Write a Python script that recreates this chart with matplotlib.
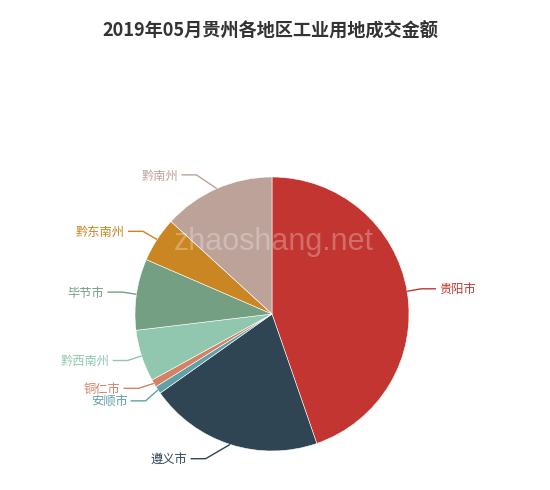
import numpy as np
import matplotlib
matplotlib.use("Agg")
import matplotlib.pyplot as plt

plt.rcParams['font.family'] = ['Noto Sans CJK SC', 'DejaVu Sans']

title = "2019年05月贵州各地区工业用地成交金额"
categories = ["贵阳市", "遵义市", "安顺市", "铜仁市", "黔西南州", "毕节市", "黔东南州", "黔南州"]
values = [44.7, 20.5, 0.9, 0.9, 6.1, 8.4, 5.3, 13.2]
colors = ["#c23531", "#2f4554", "#61a0a8", "#d48265", "#91c7ae", "#749f83", "#ca8622", "#bda29a"]

W, H = 550, 490
fig = plt.figure(figsize=(W / 100, H / 100), dpi=100)
ax = fig.add_axes([0, 0, 1, 1])

cx, cy_px, r = 272, 314, 137
cy = H - cy_px
wedges, _ = ax.pie(values, colors=colors, startangle=90, counterclock=False,
                   radius=r, center=(cx, cy), frame=True,
                   wedgeprops=dict(linewidth=0.4, edgecolor='white'))
ax.set_xlim(0, W)
ax.set_ylim(0, H)
ax.set_aspect('equal')
ax.axis('off')

# label layout (ECharts-like)
len1, len2, R = 15, 15, 166
labels = []
for w, name, col in zip(wedges, categories, colors):
    mid = np.deg2rad((w.theta1 + w.theta2) / 2)
    dx, dy = np.cos(mid), np.sin(mid)
    labels.append(dict(name=name, col=col, side=1 if dx >= 0 else -1,
                       p0=(cx + r * dx, cy + r * dy),
                       y=cy + (r + len1) * dy))

gap = 12.5
for side in (1, -1):
    grp = sorted([l for l in labels if l['side'] == side], key=lambda l: -l['y'])
    for _ in range(50):
        moved = False
        for a, b in zip(grp[:-1], grp[1:]):
            d = a['y'] - b['y']
            if d < gap:
                s = (gap - d) / 2
                a['y'] += s
                b['y'] -= s
                moved = True
        if not moved:
            break

for l in labels:
    ddy = l['y'] - cy
    ddx = np.sqrt(max(R * R - ddy * ddy, 0))
    x3 = cx + l['side'] * ddx
    x2 = x3 - l['side'] * len2
    ax.plot([l['p0'][0], x2, x3], [l['p0'][1], l['y'], l['y']], color=l['col'], lw=1,
            solid_capstyle='butt')
    ax.text(x3 + l['side'] * 3, l['y'] - 1, l['name'], color=l['col'], fontsize=8.8,
            ha='left' if l['side'] > 0 else 'right', va='center')

ax.text(W / 2 - 5, H - 31, title, ha='center', va='center', fontsize=13.1,
        fontweight='bold', color='#333333')

ax.text(274, H - 242, "zhaoshang.net", ha='center', va='center', fontsize=22,
        family=['Liberation Sans', 'DejaVu Sans'], color='white', alpha=0.28)

fig.savefig("out.png", dpi=100)
